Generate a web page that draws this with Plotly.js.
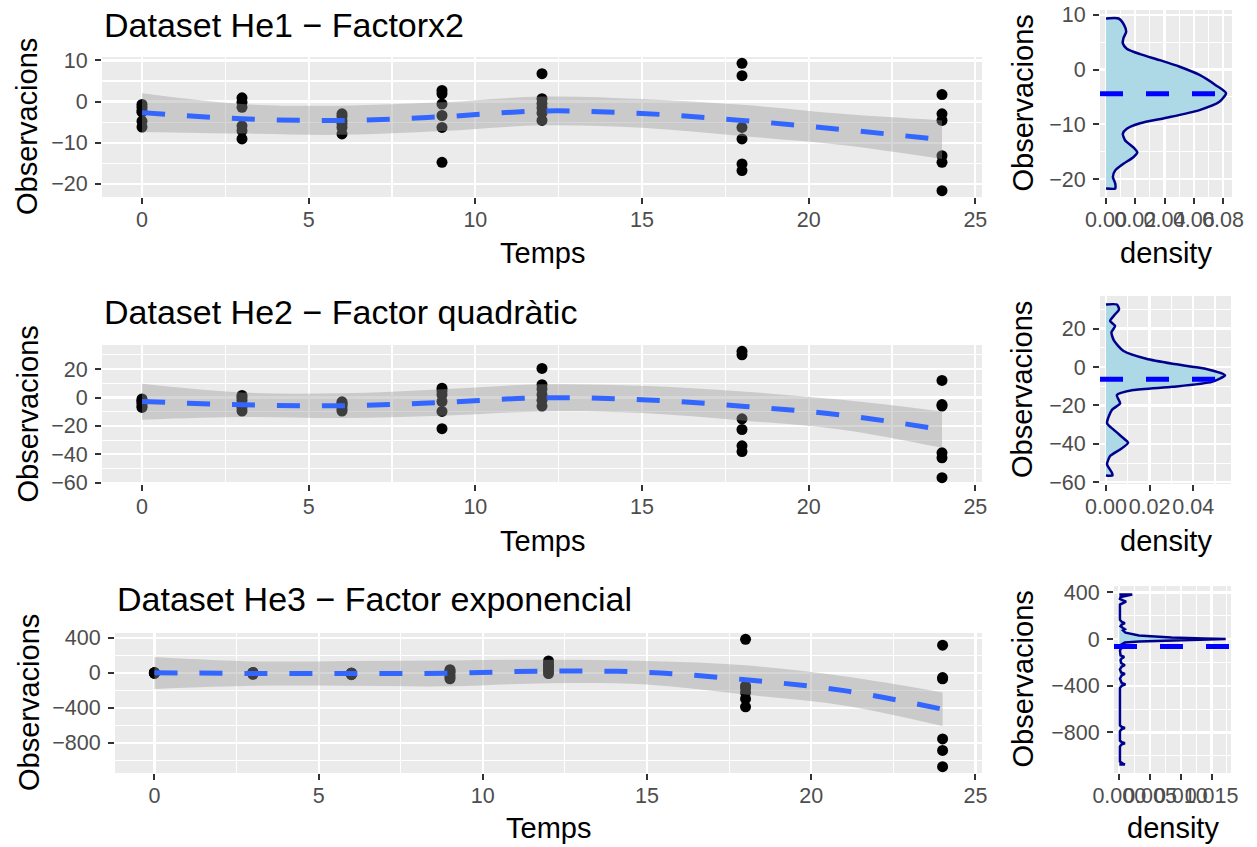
<!DOCTYPE html>
<html><head><meta charset="utf-8">
<script src="https://cdn.plot.ly/plotly-3.0.1.min.js"></script>
<style>html,body{margin:0;padding:0;background:#fff}#chart{width:1257px;height:847px}</style>
</head><body><div id="chart"></div>
<script>
const W = 1257, H = 847;
const FONT = 'Liberation Sans, Arial, Helvetica, sans-serif';

// ---------- data ----------
const times = [0, 3, 6, 9, 12, 18, 24];
const smoothT = [0, 3, 6, 9, 12, 15, 18, 21, 24];

// Dataset He1
const he1Obs = [
  [-0.7, -1.4, -2.2, -2.6, -4.8, -6.2],
  [0.9, -0.2, -1.4, -5.9, -7.1, -9.1],
  [-3.0, -3.6, -4.6, -5.4, -6.3, -7.9],
  [2.7, 1.9, -0.6, -3.4, -6.3, -14.8],
  [6.8, 0.7, -0.5, -1.6, -2.8, -4.6],
  [9.3, 6.3, -6.3, -9.1, -15.2, -16.8],
  [1.7, -3.0, -4.6, -13.2, -14.8, -21.7]
];
const he1Fit   = [-2.7, -4.2, -4.6, -3.7, -2.3, -2.9, -4.6, -6.8, -9.3];
const he1Upper = [2.0, -0.6, -1.0, -0.2, 1.2, 0.6, -0.8, -3.0, -4.6];
const he1Lower = [-7.4, -7.8, -8.1, -7.2, -5.8, -6.4, -8.4, -10.6, -14.0];
const he1DensY = [-21.7,-20.8,-19.6,-18.4,-17.2,-16.0,-15.1,-14.2,-12.9,-11.7,-10.8,-9.8,-8.8,-7.4,-5.9,-4.3,-2.9,-1.0,0.5,1.7,2.8,3.8,4.75,5.7,6.9,8.1,9.3];
const he1DensD = [0.0063,0.0063,0.0047,0.0063,0.0119,0.0187,0.0214,0.0187,0.013,0.0115,0.0142,0.0233,0.0413,0.0639,0.0775,0.082,0.0752,0.0639,0.0504,0.0368,0.0233,0.0142,0.0115,0.0119,0.0138,0.0124,0.0086];
const he1Mean = -4.4;

// Dataset He2
const he2Obs = [
  [-1, -2, -3, -4, -6, -7],
  [1.5, 0, -2, -5, -7, -9.5],
  [-3, -4, -5, -6, -8, -9.5],
  [6.6, 4.5, 2, -2.8, -9.8, -21.9],
  [20.5, 9, 6, 2, -2, -6],
  [32.5, 30, -15, -22.5, -34, -38],
  [12, -5, -6, -38.9, -42.4, -56.4]
];
const he2Fit   = [-2.8, -5.1, -5.8, -3.5, -0.2, -1.5, -6.1, -12.3, -22.6];
const he2Upper = [9.6, 3.5, 3.0, 5.9, 9.3, 8.2, 4.2, -1.6, -9.8];
const he2Lower = [-15.6, -13.7, -14.4, -12.8, -9.8, -10.9, -16.1, -22.6, -35.4];
const he2DensY = [-56.4,-54.9,-50.6,-46.3,-42.9,-39.4,-37.7,-32.6,-29.2,-22.3,-18.9,-14.6,-12,-10.3,-7.7,-4.3,-0.9,1.7,4.3,8.5,13.7,18,21.4,24,27.4,30,32.5];
const he2DensD = [0.003,0.0027,0.0005,0.0019,0.0065,0.0102,0.0087,0.0035,0.0005,0.0027,0.0065,0.005,0.0125,0.0305,0.0486,0.0546,0.0456,0.0305,0.0185,0.0079,0.0037,0.0025,0.0042,0.0019,0.0042,0.006,0.005];
const he2Mean = -6.3;

// Dataset He3
const he3Obs = [
  [1, 0, -1, -2, -4, -6],
  [3, 0, -4, -10, -14, -18],
  [-3, -6, -10, -13, -18, -22],
  [35, 22, 5, -25, -50, -70],
  [135, 95, 80, 50, 20, -10],
  [382, -150, -175, -225, -300, -390],
  [316, -55, -70, -758, -889, -1075]
];
const he3Fit   = [0, -8, -10, -5, 19, 5, -80, -205, -418];
const he3Upper = [180, 130, 135, 140, 150, 135, 85, -40, -225];
const he3Lower = [-185, -150, -150, -155, -120, -135, -250, -375, -611];
const he3DensY = [-1075,-1065,-1050,-920,-903,-893,-883,-870,-790,-772,-762,-752,-740,-420,-400,-388,-376,-340,-310,-298,-286,-260,-236,-224,-205,-180,-165,-152,-140,-100,-85,-70,-58,-45,-30,-21,-15,-9,0,5,14,30,45,55,75,85,95,110,125,137,148,165,295,308,320,332,345,360,372,382];
const he3DensD = [0.0009,0.0005,0.0001,0.0001,0.0004,0.0009,0.0004,0.0001,0.0001,0.0004,0.0009,0.0004,0.0001,0.0001,0.0004,0.0010,0.0004,0.0001,0.0004,0.0009,0.0003,0.0001,0.0004,0.0009,0.0003,0.0002,0.0004,0.0008,0.0002,0.0001,0.0002,0.0006,0.0006,0.0004,0.0009,0.0032,0.0085,0.0138,0.0173,0.0138,0.0085,0.0032,0.0020,0.0010,0.0006,0.0009,0.0006,0.0002,0.0004,0.0009,0.0004,0.0001,0.0001,0.0006,0.0011,0.0006,0.0001,0.0002,0.0010,0.0021];
const he3Mean = -64;

// titles & tick labels
const titles = ['Dataset He1 \u2212 Factorx2', 'Dataset He2 \u2212 Factor quadr\u00e0tic', 'Dataset He3 \u2212 Factor exponencial'];
const timeTickVals = [0, 5, 10, 15, 20, 25];
const timeTickText = ['0', '5', '10', '15', '20', '25'];
const timeMinor = [2.5, 7.5, 12.5, 17.5, 22.5];
const he1YTickVals = [-20, -10, 0, 10];
const he1YTickText = ['\u221220', '\u221210', '0', '10'];
const he1YMinor = [-15, -5, 5];
const he2YTickVals = [-60, -40, -20, 0, 20];
const he2YTickText = ['\u221260', '\u221240', '\u221220', '0', '20'];
const he2YMinor = [-50, -30, -10, 10, 30];
const he3YTickVals = [-800, -400, 0, 400];
const he3YTickText = ['\u2212800', '\u2212400', '0', '400'];
const he3YMinor = [-1000, -600, -200, 200];
const d1TickVals = [0, 0.02, 0.04, 0.06, 0.08];
const d1TickText = ['0.00', '0.02', '0.04', '0.06', '0.08'];
const d1Minor = [0.01, 0.03, 0.05, 0.07];
const d2TickVals = [0, 0.02, 0.04];
const d2TickText = ['0.00', '0.02', '0.04'];
const d2Minor = [0.01, 0.03, 0.05];
const d3TickVals = [0, 0.005, 0.010, 0.015];
const d3TickText = ['0.000', '0.005', '0.010', '0.015'];
const d3Minor = [0.0025, 0.0075, 0.0125, 0.0175];

// ---------- helpers ----------
const pxX = p => p / W;
const pxY = p => 1 - p / H;
function rng(arr) { const a = Math.min(...arr), b = Math.max(...arr); const e = (b - a) * 0.05; return [a - e, b + e]; }

const TITLE_SIZE = 34, AXT_SIZE = 29, TICK_SIZE = 21.5;

const datasets = [
  {obs: he1Obs, fit: he1Fit, up: he1Upper, lo: he1Lower, dy: he1DensY, dd: he1DensD, mean: he1Mean,
   yv: he1YTickVals, yt: he1YTickText, ym: he1YMinor, dv: d1TickVals, dt: d1TickText, dm: d1Minor, dspline: true,
   L: [102, 982, 57, 197], R: [1100, 1232, 10, 197], titleX: 102, titleY: 25, axY: 253, obsX: 27, obsXR: 1022},
  {obs: he2Obs, fit: he2Fit, up: he2Upper, lo: he2Lower, dy: he2DensY, dd: he2DensD, mean: he2Mean,
   yv: he2YTickVals, yt: he2YTickText, ym: he2YMinor, dv: d2TickVals, dt: d2TickText, dm: d2Minor, dspline: true,
   L: [102, 982, 345, 484], R: [1100, 1231, 296, 484], titleX: 102, titleY: 312, axY: 541, obsX: 27, obsXR: 1022},
  {obs: he3Obs, fit: he3Fit, up: he3Upper, lo: he3Lower, dy: he3DensY, dd: he3DensD, mean: he3Mean,
   yv: he3YTickVals, yt: he3YTickText, ym: he3YMinor, dv: d3TickVals, dt: d3TickText, dm: d3Minor, dspline: false,
   L: [115, 982, 633, 773], R: [1114, 1231, 586, 773], titleX: 115, titleY: 599, axY: 828, obsX: 29, obsXR: 1022}
];

const traces = [], shapes = [], annotations = [];
const layout = {
  width: W, height: H, margin: {l: 0, r: 0, t: 0, b: 0},
  paper_bgcolor: '#ffffff', plot_bgcolor: '#EBEBEB', showlegend: false,
  font: {family: FONT, color: '#000'}
};

function axis(domain, range, anchor, tv, tt, mv, isX) {
  return {
    domain, range, anchor, showgrid: true, gridcolor: '#ffffff', gridwidth: 2.2,
    zeroline: false, showline: false, ticks: 'outside', ticklen: 6, tickwidth: 2, tickcolor: '#333333',
    tickfont: {family: FONT, size: TICK_SIZE, color: '#4D4D4D'}, tickangle: 0,
    tickmode: 'array', tickvals: tv, ticktext: tt, ticklabelstandoff: isX ? -3 : 3,
    minor: {tickmode: 'array', tickvals: mv, showgrid: true, gridcolor: '#ffffff', gridwidth: 1.1, ticks: ''},
    fixedrange: true
  };
}

datasets.forEach((d, k) => {
  const li = 2 * k + 1, ri = 2 * k + 2;
  const xl = li === 1 ? 'x' : 'x' + li, yl = li === 1 ? 'y' : 'y' + li;
  const xr = 'x' + ri, yr = 'y' + ri;
  const xs = [], ys = [];
  times.forEach((t, i) => d.obs[i].forEach(v => { xs.push(t); ys.push(v); }));
  const yRange = rng(ys);
  const xRange = rng(times);

  traces.push({type: 'scatter', mode: 'markers', x: xs, y: ys, xaxis: xl, yaxis: yl,
    marker: {size: 11, color: '#000000'}, hoverinfo: 'skip'});
  traces.push({type: 'scatter', mode: 'lines', x: smoothT, y: d.up, xaxis: xl, yaxis: yl,
    line: {width: 0, shape: 'spline', smoothing: 1}, hoverinfo: 'skip'});
  traces.push({type: 'scatter', mode: 'lines', x: smoothT, y: d.lo, xaxis: xl, yaxis: yl,
    line: {width: 0, shape: 'spline', smoothing: 1}, fill: 'tonexty', fillcolor: 'rgba(153,153,153,0.4)', hoverinfo: 'skip'});
  traces.push({type: 'scatter', mode: 'lines', x: smoothT, y: d.fit, xaxis: xl, yaxis: yl,
    line: {width: 5, color: '#3366FF', dash: '23px,22px', shape: 'spline', smoothing: 1}, hoverinfo: 'skip'});

  const dx = [0].concat(d.dd, [0]);
  const dyy = [d.dy[0]].concat(d.dy, [d.dy[d.dy.length - 1]]);
  traces.push({type: 'scatter', mode: 'lines', x: dx, y: dyy, xaxis: xr, yaxis: yr,
    fill: 'toself', fillcolor: '#ADD8E6',
    line: {color: '#00008B', width: 2.5, shape: d.dspline ? 'spline' : 'linear', smoothing: 0.6}, hoverinfo: 'skip'});

  const dmax = Math.max(...d.dd);
  const dRange = [-dmax * 0.05, dmax * 1.05];

  layout['xaxis' + (li === 1 ? '' : li)] = axis([pxX(d.L[0]), pxX(d.L[1])], xRange, yl, timeTickVals, timeTickText, timeMinor, true);
  layout['yaxis' + (li === 1 ? '' : li)] = axis([pxY(d.L[3]), pxY(d.L[2])], yRange, xl, d.yv, d.yt, d.ym, false);
  layout['xaxis' + ri] = axis([pxX(d.R[0]), pxX(d.R[1])], dRange, yr, d.dv, d.dt, d.dm, true);
  layout['yaxis' + ri] = axis([pxY(d.R[3]), pxY(d.R[2])], yRange, xr, d.yv, d.yt, d.ym, false);

  shapes.push({type: 'line', xref: xr + ' domain', yref: yr, x0: 0, x1: 1, y0: d.mean, y1: d.mean,
    line: {color: '#0000FF', width: 5, dash: '23px,23px'}});

  annotations.push({text: titles[k], xref: 'paper', yref: 'paper', x: pxX(d.titleX), y: pxY(d.titleY),
    xanchor: 'left', yanchor: 'middle', showarrow: false, font: {family: FONT, size: TITLE_SIZE, color: '#000'}});
  annotations.push({text: 'Temps', xref: 'paper', yref: 'paper', x: pxX((d.L[0] + d.L[1]) / 2), y: pxY(d.axY),
    xanchor: 'center', yanchor: 'middle', showarrow: false, font: {family: FONT, size: AXT_SIZE, color: '#000'}});
  annotations.push({text: 'density', xref: 'paper', yref: 'paper', x: pxX((d.R[0] + d.R[1]) / 2), y: pxY(d.axY),
    xanchor: 'center', yanchor: 'middle', showarrow: false, font: {family: FONT, size: AXT_SIZE, color: '#000'}});
  annotations.push({text: 'Observacions', xref: 'paper', yref: 'paper', x: pxX(d.obsX), y: pxY((d.L[2] + d.L[3]) / 2),
    xanchor: 'center', yanchor: 'middle', textangle: -90, showarrow: false, font: {family: FONT, size: AXT_SIZE, color: '#000'}});
  annotations.push({text: 'Observacions', xref: 'paper', yref: 'paper', x: pxX(d.obsXR), y: pxY((d.R[2] + d.R[3]) / 2),
    xanchor: 'center', yanchor: 'middle', textangle: -90, showarrow: false, font: {family: FONT, size: AXT_SIZE, color: '#000'}});
});

layout.shapes = shapes;
layout.annotations = annotations;

Plotly.newPlot('chart', traces, layout, {displayModeBar: false, staticPlot: true});
</script>
</body></html>
